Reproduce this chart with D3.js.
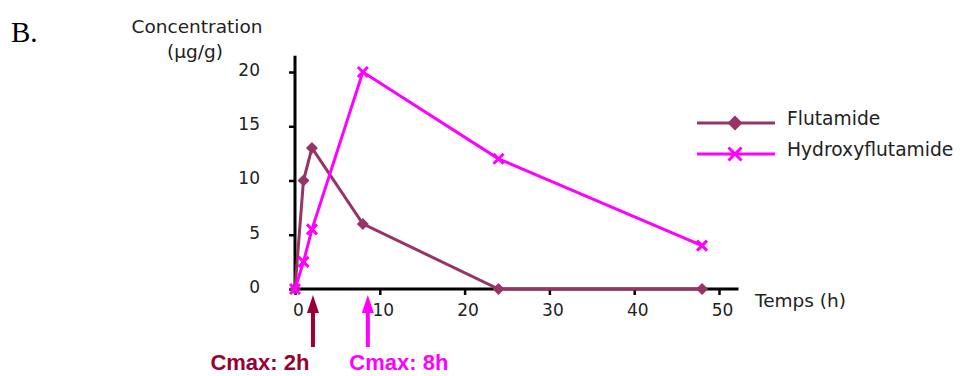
<!DOCTYPE html>
<html><head><meta charset="utf-8">
<script src="https://cdn.jsdelivr.net/npm/d3@7"></script>
<style>body{margin:0;background:#fff}svg{display:block}</style>
</head><body>
<script>
const times = [0, 1, 2, 8, 24, 48];
const flutamide = [0, 10, 13, 6, 0, 0];
const hydroxyflutamide = [0, 2.5, 5.5, 20, 12, 4];
const xTicks = [0, 10, 20, 30, 40, 50];
const yTicks = [0, 5, 10, 15, 20];
const seriesNames = ["Flutamide", "Hydroxyflutamide"];
const cmaxTimes = [2, 8];
const cmaxLabels = ["Cmax: 2h", "Cmax: 8h"];

const W = 976, H = 376;
const colF = "#993366", colH = "#ff00ff", colArrow2 = "#990033";
const svg = d3.select("body").append("svg").attr("width", W).attr("height", H);
const x = d3.scaleLinear().domain([0, 50]).range([295, 719]);
const y = d3.scaleLinear().domain([0, 20]).range([289, 72]);
const font = "'DejaVu Sans', Verdana, sans-serif";
const boldFont = "Arial, 'Liberation Sans', sans-serif";

svg.append("text").attr("x", 11).attr("y", 42).attr("font-family", "'Liberation Serif', 'Times New Roman', serif")
  .attr("font-size", 29).attr("fill", "#000").text("B.");

svg.append("text").attr("x", 197).attr("y", 33).attr("text-anchor", "middle").attr("font-family", font)
  .attr("font-size", 18.5).attr("fill", "#222").text("Concentration");
svg.append("text").attr("x", 195).attr("y", 58).attr("text-anchor", "middle").attr("font-family", font)
  .attr("font-size", 18.5).attr("fill", "#222").text("(µg/g)");

// axes
const gx = svg.append("g").attr("transform", `translate(0,${y(0)})`)
  .call(d3.axisBottom(x).tickValues(xTicks).tickSize(6).tickPadding(9));
const gy = svg.append("g").attr("transform", `translate(${x(0)},0)`)
  .call(d3.axisLeft(y).tickValues(yTicks).tickSize(6).tickPadding(29));
[gx, gy].forEach(g => {
  g.select(".domain").remove();
  g.selectAll(".tick line").attr("stroke", "#000").attr("stroke-width", 2.5);
  g.selectAll(".tick text").attr("font-family", font).attr("font-size", 17).attr("fill", "#222");
});
gx.selectAll(".tick text").attr("dx", 3);
gy.selectAll(".tick text").attr("dy", "0.2em");
svg.append("line").attr("x1", x(0)).attr("x2", x(52.3)).attr("y1", y(0)).attr("y2", y(0))
  .attr("stroke", "#000").attr("stroke-width", 3);
svg.append("line").attr("x1", x(0)).attr("x2", x(0)).attr("y1", y(0)).attr("y2", y(21.5))
  .attr("stroke", "#000").attr("stroke-width", 3);

svg.append("text").attr("x", 755).attr("y", 307).attr("font-family", font).attr("font-size", 18.5)
  .attr("fill", "#222").text("Temps (h)");

const line = d3.line().x(d => x(d[0])).y(d => y(d[1]));
const dataF = times.map((t, i) => [t, flutamide[i]]);
const dataH = times.map((t, i) => [t, hydroxyflutamide[i]]);

const diamond = (s) => `M0,${-s}L${s},0L0,${s}L${-s},0Z`;
const cross = (s) => `M${-s},${-s}L${s},${s}M${-s},${s}L${s},${-s}`;

svg.append("path").datum(dataF).attr("d", line).attr("fill", "none").attr("stroke", colF).attr("stroke-width", 3);
svg.selectAll(".mf").data(dataF).enter().append("path")
  .attr("transform", d => `translate(${x(d[0])},${y(d[1])})`).attr("d", diamond(6)).attr("fill", colF);

svg.append("path").datum(dataH).attr("d", line).attr("fill", "none").attr("stroke", colH).attr("stroke-width", 3);
svg.selectAll(".mh").data(dataH).enter().append("path")
  .attr("transform", d => `translate(${x(d[0])},${y(d[1])})`).attr("d", cross(5))
  .attr("fill", "none").attr("stroke", colH).attr("stroke-width", 3);

// legend
const leg = [[colF, "diamond", 123], [colH, "cross", 154]];
leg.forEach((l, i) => {
  svg.append("line").attr("x1", 697).attr("x2", 775).attr("y1", l[2]).attr("y2", l[2]).attr("stroke", l[0]).attr("stroke-width", 3);
  if (l[1] === "diamond") svg.append("path").attr("transform", `translate(735,${l[2]})`).attr("d", diamond(7.5)).attr("fill", l[0]);
  else svg.append("path").attr("transform", `translate(735,${l[2]})`).attr("d", cross(6.5)).attr("fill", "none").attr("stroke", l[0]).attr("stroke-width", 3);
  svg.append("text").attr("x", 787).attr("y", l[2] + 2).attr("font-family", font).attr("font-size", 18.7)
    .attr("fill", "#222").text(seriesNames[i]);
});

// Cmax arrows
const arrowCols = [colArrow2, colH];
const arrowDx = [1, 5];
cmaxTimes.forEach((t, i) => {
  const ax = x(t) + arrowDx[i];
  const c = arrowCols[i];
  svg.append("line").attr("x1", ax).attr("x2", ax).attr("y1", 305).attr("y2", 347).attr("stroke", c).attr("stroke-width", 4);
  svg.append("path").attr("d", `M${ax},295L${ax + 6},313L${ax - 6},313Z`).attr("fill", c);
  svg.append("text").attr("x", ax).attr("y", 370).attr("text-anchor", "middle").attr("font-family", boldFont)
    .attr("font-weight", "bold").attr("font-size", 22).attr("fill", c)
    .attr("dx", i === 0 ? -53 : 31).text(cmaxLabels[i]);
});
</script>
</body></html>
